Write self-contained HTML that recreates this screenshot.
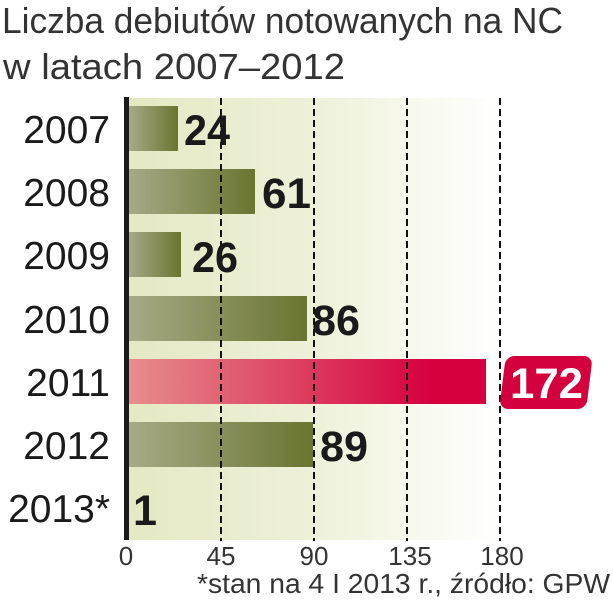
<!DOCTYPE html>
<html><head><meta charset="utf-8"><style>
html,body{margin:0;padding:0;background:#fff;}
svg{display:block;}
</style></head><body>
<svg width="613" height="614" viewBox="0 0 613 614" xmlns="http://www.w3.org/2000/svg">
<defs>
<linearGradient id="bg" x1="0" x2="1" y1="0" y2="0">
<stop offset="0" stop-color="#e4e9c3"/>
<stop offset="0.5" stop-color="#eef1d9"/>
<stop offset="1" stop-color="#ffffff"/>
</linearGradient>
<linearGradient id="gb" x1="0" x2="1" y1="0" y2="0">
<stop offset="0" stop-color="#a6aa87"/>
<stop offset="1" stop-color="#6a7530"/>
</linearGradient>
<linearGradient id="rb" x1="0" x2="1" y1="0" y2="0">
<stop offset="0" stop-color="#e68e8c"/>
<stop offset="0.85" stop-color="#d6003f"/>
<stop offset="1" stop-color="#d6003f"/>
</linearGradient>
</defs>
<g font-family="'Liberation Sans', sans-serif">
<text x="2" y="33" font-size="36" textLength="561" lengthAdjust="spacingAndGlyphs" fill="#333">Liczba debiutów notowanych na NC</text>
<text x="3" y="79" font-size="36" textLength="342" lengthAdjust="spacingAndGlyphs" fill="#333">w latach 2007–2012</text>
</g>
<rect x="129" y="98" width="372" height="442" fill="url(#bg)"/>
<rect x="129" y="106" width="49" height="45" fill="url(#gb)"/>
<rect x="129" y="169" width="126" height="45" fill="url(#gb)"/>
<rect x="129" y="232" width="52" height="45" fill="url(#gb)"/>
<rect x="129" y="296" width="178" height="45" fill="url(#gb)"/>
<rect x="129" y="359" width="357" height="45" fill="url(#rb)"/>
<rect x="129" y="422" width="184" height="45" fill="url(#gb)"/>
<g stroke="#111" stroke-width="2" stroke-dasharray="7,4">
<line x1="221" y1="98" x2="221" y2="541"/>
<line x1="314" y1="98" x2="314" y2="541"/>
<line x1="407" y1="98" x2="407" y2="541"/>
<line x1="500" y1="98" x2="500" y2="541"/>
</g>
<rect x="124" y="97" width="5" height="443" fill="#1a1a1a"/>
<g font-family="'Liberation Sans', sans-serif" font-size="39" fill="#1a1a1a" text-anchor="end">
<text x="110" y="143">2007</text>
<text x="110" y="206">2008</text>
<text x="110" y="269">2009</text>
<text x="110" y="333">2010</text>
<text x="110" y="396">2011</text>
<text x="110" y="459">2012</text>
<text x="110" y="522">2013*</text>
</g>
<g font-family="'Liberation Sans', sans-serif" font-size="43" font-weight="bold" fill="#1a1a1a">
<text x="184" y="145" textLength="46" lengthAdjust="spacingAndGlyphs">24</text>
<text x="262" y="208" textLength="49" lengthAdjust="spacingAndGlyphs">61</text>
<text x="192" y="272" textLength="46" lengthAdjust="spacingAndGlyphs">26</text>
<text x="312" y="335" textLength="48" lengthAdjust="spacingAndGlyphs">86</text>
<text x="320" y="461" textLength="48" lengthAdjust="spacingAndGlyphs">89</text>
<text x="133" y="525" textLength="24" lengthAdjust="spacingAndGlyphs">1</text>
</g>
<rect x="502.5" y="356" width="87" height="53" rx="9" fill="#d4003e" transform="translate(0,382.5) skewX(-7) translate(0,-382.5)"/>
<text x="510" y="398" font-family="'Liberation Sans', sans-serif" font-size="43" font-weight="bold" fill="#fff" textLength="73" lengthAdjust="spacingAndGlyphs">172</text>
<g font-family="'Liberation Sans', sans-serif" font-size="26" fill="#333" text-anchor="middle">
<text x="126" y="565">0</text>
<text x="221" y="565">45</text>
<text x="314" y="565">90</text>
<text x="410" y="565">135</text>
<text x="502" y="565">180</text>
</g>
<text x="197" y="593" font-family="'Liberation Sans', sans-serif" font-size="28" fill="#333" textLength="413" lengthAdjust="spacingAndGlyphs">*stan na 4 I 2013 r., źródło: GPW</text>
</svg>
</body></html>
